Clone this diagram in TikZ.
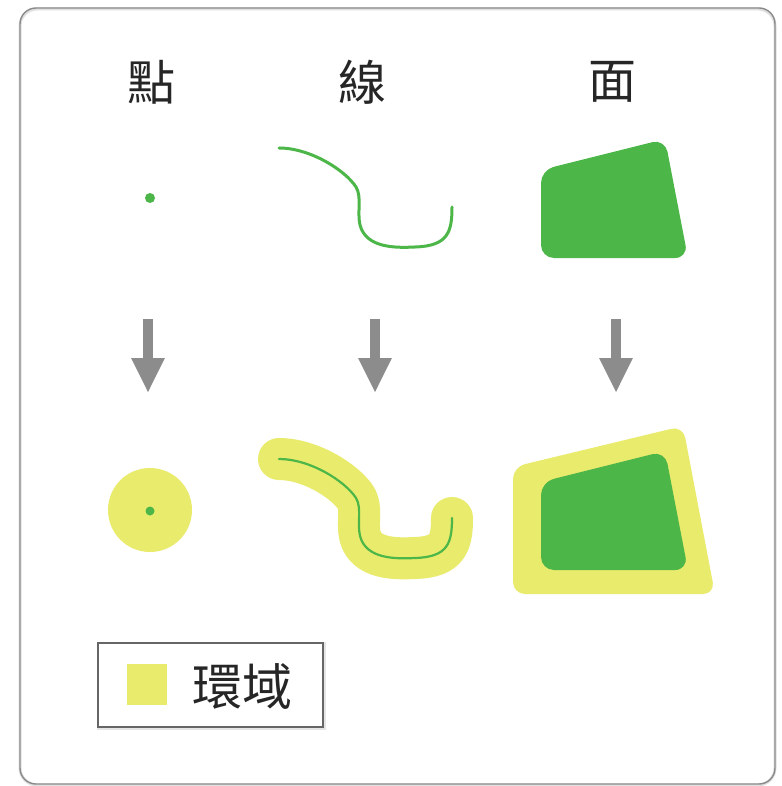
\documentclass[tikz,border=0pt]{standalone}
\usepackage{fontspec}
\newfontfamily\cjk{Noto Sans CJK TC}
\usetikzlibrary{arrows.meta}
\definecolor{grn}{HTML}{4CB748}
\definecolor{ylw}{HTML}{E9EB6D}
\definecolor{arrg}{HTML}{8C8C8C}
\definecolor{frameg}{HTML}{8A8A8A}
\tikzset{
  heading/.style={font=\cjk\fontsize{48}{48}\selectfont, text=black!85, inner sep=0pt},
  downarrow/.style={draw=arrg, line width=10pt, -{Triangle[length=35pt,width=31pt]}},
  greenline/.style={draw=grn, line cap=round, line join=round},
  buffer/.style={draw=ylw, line width=42pt, line cap=round, line join=round},
}
\begin{document}
\begin{tikzpicture}[x=1pt,y=-1pt]
\useasboundingbox (0,0) rectangle (781,786);
\fill[white] (0,0) rectangle (781,786);
% frame
\draw[black!12, line width=3pt, rounded corners=17pt] (20,9) rectangle (775,785);
\draw[frameg, line width=1.4pt, rounded corners=16pt] (20,8) rectangle (775,784);
% headings
\node[heading] (hpt) at (151,82) {點};
\node[heading] (hln) at (362,82) {線};
\node[heading] (har) at (612,82) {面};
% top row
\fill[grn] (150,198) circle (5);
\draw[greenline, line width=3pt] (279,148) .. controls (310,148) and (345,170) .. (356,187) .. controls (362,197) and (357,212) .. (360,225) .. controls (366,248) and (395,248) .. (415,247) .. controls (448,246) and (452,232) .. (452,207);
\fill[grn, rounded corners=13pt] (541,258) -- (541,170) -- (665,139) -- (688,258) -- cycle;
% arrows
\coordinate (a1s) at (148,319); \coordinate (a1e) at (148,393);
\coordinate (a2s) at (375,319); \coordinate (a2e) at (375,393);
\coordinate (a3s) at (616,319); \coordinate (a3e) at (616,393);
\draw[downarrow] (a1s) -- (a1e);
\draw[downarrow] (a2s) -- (a2e);
\draw[downarrow] (a3s) -- (a3e);
% bottom row: point buffer
\fill[ylw] (150,510) circle (42);
\fill[grn] (150,511) circle (4.5);
% line buffer
\begin{scope}[yshift=-311pt]
\draw[buffer] (279,148) .. controls (310,148) and (345,170) .. (356,187) .. controls (362,197) and (357,212) .. (360,225) .. controls (366,248) and (395,248) .. (415,247) .. controls (448,246) and (452,232) .. (452,207);
\draw[greenline, line width=2.2pt] (279,148) .. controls (310,148) and (345,170) .. (356,187) .. controls (362,197) and (357,212) .. (360,225) .. controls (366,248) and (395,248) .. (415,247) .. controls (448,246) and (452,232) .. (452,207);
\end{scope}
% polygon buffer
\fill[ylw, rounded corners=12pt] (513,594) -- (513,467) -- (683,426) -- (715,594) -- cycle;
\begin{scope}[yshift=-312pt]
\fill[grn, rounded corners=13pt] (541,258) -- (541,170) -- (665,139) -- (688,258) -- cycle;
\end{scope}
% legend
\draw[black!10, line width=4pt] (99,644) rectangle (324,728);
\draw[fill=white, draw=black!60, line width=1.8pt] (98,643) rectangle (323,727);
\fill[ylw] (127,664) rectangle (167,705);
\node[font=\cjk\fontsize{50}{50}\selectfont, text=black!85, inner sep=0pt] (leg) at (242,686) {環域};
\end{tikzpicture}
\end{document}
